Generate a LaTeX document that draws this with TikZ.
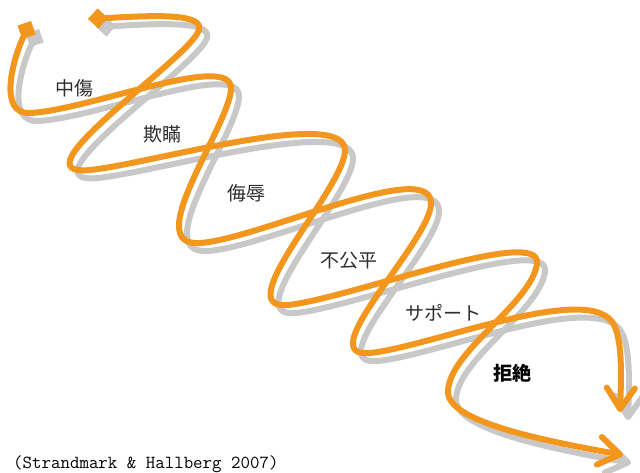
\documentclass[tikz,border=0pt]{standalone}
\usepackage{fontspec}
\newfontfamily\cjk{Noto Sans CJK JP}
\usetikzlibrary{arrows.meta}
\definecolor{helixorange}{RGB}{243,150,30}
\definecolor{helixshadow}{RGB}{200,200,200}
\definecolor{labelgray}{RGB}{45,45,45}
\tikzset{
  strand/.style={line width=6pt, line cap=round, line join=round,
    {Diamond[length=20pt,width=20pt,line width=0.5pt]}-{Straight Barb[length=21pt,width=28pt,round]}},
  lbl/.style={font=\cjk\fontsize{19pt}{19pt}\selectfont, text=labelgray, inner sep=0pt},
}
\begin{document}
\begin{tikzpicture}[x=1pt,y=-1pt]
\useasboundingbox (0,0) rectangle (640,473);
\def\pathA{(31,21) .. controls (12,60) and (-2,114.6) .. (30,113)
  .. controls (90,110) and (235,50) .. (231,90)
  .. controls (227,130) and (140,247) .. (200,243)
  .. controls (260,239) and (435,155) .. (431,205)
  .. controls (427,245) and (310,359) .. (370,353)
  .. controls (430,347) and (592,280) .. (614,325)
  .. controls (623,343) and (621,382) .. (620,412)}
\def\pathB{(88,19) .. controls (138,16.5) and (205,11) .. (199,30)
  .. controls (190,58.5) and (10,178) .. (90,170)
  .. controls (150,164) and (349,105) .. (345,152)
  .. controls (341,192) and (228,311) .. (288,305)
  .. controls (348,299) and (543,224) .. (537,264)
  .. controls (531,304) and (448,352) .. (448,392)
  .. controls (448,422) and (545,441) .. (623,455)}
% shadows
\draw[strand, helixshadow, shift={(8,8)}] \pathA;
\draw[strand, helixshadow, shift={(8,8)}] \pathB;
% strands
\draw[strand, helixorange] \pathA;
\draw[strand, helixorange] \pathB;
% labels
\node[lbl] (l1) at (74,88) {中傷};
\node[lbl] (l2) at (162,134) {欺瞞};
\node[lbl] (l3) at (246,193) {侮辱};
\node[lbl] (l4) at (349,261) {不公平};
\node[lbl] (l5) at (443,313) {サポート};
\node[lbl, text=black, font=\cjk\bfseries\fontsize{19pt}{19pt}\selectfont] (l6) at (512,373) {拒絶};
\node[anchor=base west, inner sep=0pt, font=\ttfamily\fontsize{18.4pt}{18.4pt}\selectfont] (cite) at (13,468) {(Strandmark \& Hallberg 2007)};
\end{tikzpicture}
\end{document}
